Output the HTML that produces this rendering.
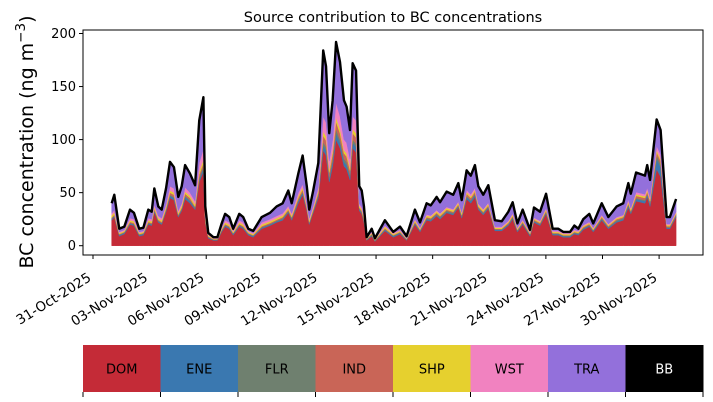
<!DOCTYPE html>
<html><head><meta charset="utf-8"><style>
html,body{margin:0;padding:0;background:#fff;}
svg{display:block;font-family:"DejaVu Sans","Liberation Sans",sans-serif;}
</style></head><body>
<svg id="chart" width="713" height="402" viewBox="0 0 713 402" xmlns="http://www.w3.org/2000/svg">
<rect x="0" y="0" width="713" height="402" fill="#fff"/>
<text x="393" y="22" text-anchor="middle" font-size="14.5" fill="#000">Source contribution to BC concentrations</text>
<text transform="translate(33,142) rotate(-90)" text-anchor="middle" font-size="19" fill="#000">BC concentration (ng m<tspan dy="-8" font-size="13.5">−3</tspan><tspan dy="8">)</tspan></text>
<g id="plot"></g>
<g id="cbar"></g>
</svg>
<script>
const days=[0.99,1.13,1.39,1.66,1.96,2.17,2.45,2.67,2.93,3.11,3.25,3.46,3.64,3.87,4.08,4.29,4.52,4.70,4.88,5.14,5.41,5.63,5.85,5.95,6.11,6.38,6.59,6.82,7.00,7.22,7.43,7.75,7.96,8.23,8.49,8.94,9.38,9.73,10.05,10.35,10.53,10.88,11.11,11.33,11.46,11.67,11.94,12.20,12.35,12.52,12.70,12.88,13.09,13.30,13.44,13.62,13.76,13.94,14.11,14.24,14.36,14.50,14.77,14.94,15.47,15.91,16.27,16.62,17.06,17.33,17.68,17.90,18.21,18.39,18.74,19.09,19.36,19.54,19.80,20.02,20.24,20.42,20.68,20.95,21.30,21.66,22.01,22.24,22.49,22.77,23.16,23.37,23.69,24.01,24.36,24.66,24.92,25.28,25.51,25.72,25.98,26.30,26.51,26.96,27.31,27.75,28.10,28.37,28.50,28.78,29.25,29.37,29.52,29.87,30.08,30.40,30.57,30.90];
const total=[40,48,16,18,34,31,16,17,34,32,54,37,34,54,79,74,46,56,76,68,57,118,140,37,12,8,8,21,30,27,16,30,27,16,14,27,31,37,40,52,40,68,85,56,34,52,78,184,169,106,137,192,173,137,131,109,172,165,56,52,37,8,16,7,24,13,18,9,34,22,40,38,46,41,51,48,59,43,71,66,76,56,48,57,24,23,32,41,21,34,15,36,32,49,16,16,13,13,19,16,25,30,21,40,27,37,40,59,49,69,66,76,62,119,109,27,27,44];
const dom=[24,27,9,11,20,19,9,10,20,19,32,22,20,32,45,43,27,33,44,40,34,60,70,22,7,5,5,13,18,16,10,18,16,10,8,16,19,22,24,31,24,40,48,33,20,31,45,90,85,60,75,100,92,75,72,62,92,88,33,30,22,5,9,4,14,8,11,5,20,13,24,23,28,25,31,29,36,26,44,40,46,34,29,35,14,14,19,25,13,20,9,22,19,30,10,10,8,8,11,10,15,18,13,24,16,22,24,36,30,42,40,46,37,72,65,16,16,27];
const ene=[1,1,1,1,1,1,1,1,1,1,1,1,1,1,2,2,1,1,2,2,1,2,3,1,1,0.5,0.5,1,1,1,1,1,1,1,1,1,1,1,1,1,1,2,2,1,1,1,2,5,5,3,4,6,5,4,4,3,5,5,1,1,1,0.5,1,0.5,1,1,1,0.5,1,1,1,1,1,1,1,1,1,1,2,2,2,1,1,1,1,1,1,1,1,1,1,1,1,1,1,1,1,1,1,1,1,1,1,1,1,1,1,2,1,2,2,2,2,10,9,1,1,1];
const flr=[0.5,0.5,0.5,0.5,0.5,0.5,0.5,0.5,0.5,0.5,1,0.5,0.5,1,1,1,0.5,1,1,1,1,2,2,0.5,0.3,0.3,0.3,0.5,0.5,0.5,0.5,0.5,0.5,0.5,0.5,0.5,0.5,0.5,1,1,1,1,1,1,0.5,1,1,3,3,2,3,4,3,3,3,2,3,3,1,1,1,0.3,0.5,0.3,0.5,0.5,0.5,0.3,0.5,0.5,1,1,1,1,1,1,1,1,1,1,1,1,1,1,0.5,0.5,0.5,1,0.5,0.5,0.5,0.5,0.5,1,0.5,0.5,0.5,0.5,0.5,0.5,0.5,0.5,0.5,1,0.5,1,1,1,1,1,1,1,1,3,3,0.5,0.5,1];
const ind=[1,1,0.5,0.5,1,1,0.5,0.5,1,1,1,1,1,1,2,2,1,1,2,2,1,3,3,1,0.5,0.3,0.3,0.5,1,1,0.5,1,1,0.5,0.5,1,1,1,1,1,1,2,2,1,1,1,2,6,6,4,5,7,6,5,5,4,6,6,1,1,1,0.3,0.5,0.3,1,0.5,0.5,0.3,1,0.5,1,1,1,1,1,1,1,1,2,2,2,1,1,1,0.5,0.5,1,1,0.5,1,0.5,1,1,1,0.5,0.5,0.5,0.5,0.5,0.5,1,1,0.5,1,1,1,1,1,1,2,2,2,2,3,3,1,1,1];
const shp=[2,2,1,1,1.5,1.5,1,1,1.5,1.5,2,1.5,1.5,2,2,2,1.5,2,2,2,2,3,3,1.5,1,0.5,0.5,1,1.5,1.5,1,1.5,1.5,1,1,1.5,1.5,1.5,1.5,1.5,1.5,2,2,1.5,1.5,1.5,2,4,4,3,3,4,4,3,3,3,4,4,1.5,1.5,1.5,0.5,1,0.5,1.5,1,1,0.5,1.5,1,1.5,1.5,1.5,1.5,1.5,1.5,1.5,1.5,1.5,1.5,1.5,1.5,1.5,1.5,1,1,1,1.5,1,1,1,1,1,1.5,1,1,1,1,1,1,1,1,1,1,1,1,1,1.5,1.5,1.5,1.5,1.5,1.5,2,2,1,1,1];
const wst=[2,2,1,1,2,2,1,1,2,2,2,2,2,2,4,4,2,2,4,3,3,8,10,2,1,0.5,0.5,1,2,2,1,2,2,1,1,2,2,2,2,2,2,3,3,2,2,2,3,14,13,8,10,14,12,10,10,8,12,12,2,2,2,0.5,1,0.5,1,1,1,0.5,1,1,1,1,1,1,1,1,1,1,2,2,2,1,1,1,1,1,1,1,1,1,1,1,1,1,1,1,1,1,1,1,1,1,1,1,1,1,1,2,1,2,2,2,2,4,4,1,1,1];
const srcNames=["DOM","ENE","FLR","IND","SHP","WST","TRA","BB"];
const srcColors=["#c42b37","#3a78b0","#6f806f","#c96557","#e6d02e","#f182c0","#9370db","#000000"];
const yTicks=[0,50,100,150,200];
const xTickDays=[0,3,6,9,12,15,18,21,24,27,30];
const xTickLabels=["31-Oct-2025","03-Nov-2025","06-Nov-2025","09-Nov-2025","12-Nov-2025","15-Nov-2025","18-Nov-2025","21-Nov-2025","24-Nov-2025","27-Nov-2025","30-Nov-2025"];

const NS="http://www.w3.org/2000/svg";
const L=83,R=703,T=30,B=255;
const xS=d=>93+d*18.87;
const yS=v=>245.7-v*1.061;
const plot=document.getElementById('plot');
function mk(tag,attrs,parent){const e=document.createElementNS(NS,tag);for(const k in attrs)e.setAttribute(k,attrs[k]);parent.appendChild(e);return e;}

const n=days.length;
const layersArr=[dom,ene,flr,ind,shp,wst];
let base=new Array(n).fill(0);
const layerNames=["dom","ene","flr","ind","shp","wst","tra"];
for(let li=0;li<7;li++){
  const top=[];
  for(let i=0;i<n;i++){
    let v;
    if(li<6)v=layersArr[li][i];
    else v=Math.max(0,total[i]-base[i]);
    top.push(base[i]+v);
  }
  let pts=[];
  for(let i=0;i<n;i++)pts.push(xS(days[i]).toFixed(2)+","+yS(top[i]).toFixed(2));
  for(let i=n-1;i>=0;i--)pts.push(xS(days[i]).toFixed(2)+","+yS(base[i]).toFixed(2));
  const p=mk('polygon',{points:pts.join(" "),fill:srcColors[li],stroke:srcColors[li],'stroke-width':0.5},plot);
  
  
  base=top;
}
let lp=[];
for(let i=0;i<n;i++)lp.push(xS(days[i]).toFixed(2)+","+yS(total[i]).toFixed(2));
const tl=mk('polyline',{points:lp.join(" "),fill:"none",stroke:"#000","stroke-width":2.4,"stroke-linejoin":"round"},plot);



const frame=mk('rect',{x:L,y:T,width:R-L,height:B-T,fill:"none",stroke:"#000","stroke-width":1},plot);



yTicks.forEach(v=>{
  const y=yS(v);
  const t=mk('line',{x1:L-4,x2:L,y1:y,y2:y,stroke:"#000","stroke-width":1},plot);
  
  
  const tx=mk('text',{x:L-7,y:y+4.5,"text-anchor":"end","font-size":13,fill:"#000"},plot);
  tx.textContent=v;
  
  
});
xTickDays.forEach((d,i)=>{
  const x=xS(d);
  const t=mk('line',{x1:x,x2:x,y1:B,y2:B+4,stroke:"#000","stroke-width":1},plot);
  
  
  const tx=mk('text',{transform:`translate(${x-1},${B+25}) rotate(-32)`,"text-anchor":"end","font-size":13.5,fill:"#000"},plot);
  tx.textContent=xTickLabels[i];
  
  
});

const cb=document.getElementById('cbar');
const cL=83,cR=703,cT=345,cB=392,w=(cR-cL)/srcNames.length;
srcNames.forEach((nm,i)=>{
  const r=mk('rect',{x:cL+i*w,y:cT,width:w+0.5,height:cB-cT,fill:srcColors[i]},cb);
  
  
  const tx=mk('text',{x:cL+(i+0.5)*w,y:(cT+cB)/2+5,"text-anchor":"middle","font-size":13,fill:nm==="BB"?"#fff":"#000"},cb);
  tx.textContent=nm;
  
  
});
for(let i=0;i<=srcNames.length;i++){
  const t=mk('line',{x1:cL+i*w,x2:cL+i*w,y1:cB,y2:cB+5,stroke:"#000","stroke-width":1},cb);
  
  
}
</script>
</body></html>
